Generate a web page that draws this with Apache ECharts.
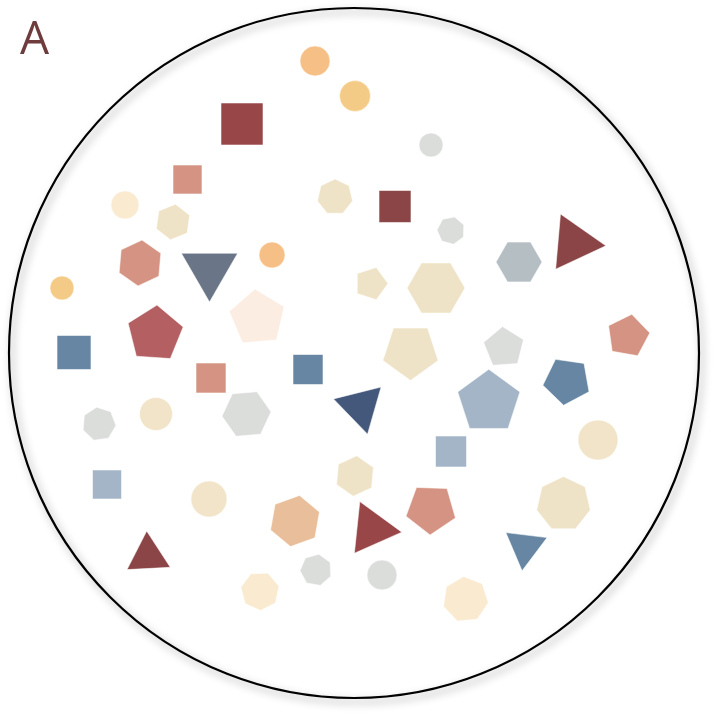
<!DOCTYPE html>
<html>
<head>
<meta charset="utf-8">
<title>Shapes</title>
<script src="https://cdn.jsdelivr.net/npm/echarts@6/dist/echarts.min.js"></script>
<style>
  html, body { margin: 0; padding: 0; background: #fff; }
  #chart { width: 720px; height: 720px; }
</style>
</head>
<body>
<div id="chart"></div>
<script>
// one entry per shape, same order in every array
var shapeX = [315, 355, 242, 431, 187.5, 125, 173, 335, 395, 451, 519, 574, 140, 209.5, 272, 62,
  371, 436, 628, 155, 257.5, 74, 410.5, 504, 211, 308, 360.7, 488.8, 567, 99, 156, 246.5,
  598, 451, 107, 209, 355, 295, 372, 431, 563.5, 148, 525, 316, 382, 260, 465.5];
var shapeY = [61, 96, 124, 145, 179.5, 205, 222, 197, 206.5, 230.5, 262, 243, 263, 269.5, 255, 288,
  283.6, 288, 336, 334, 318, 352.5, 351.5, 347.5, 378, 369.5, 406.7, 402, 381, 424, 414, 414,
  440, 451.5, 484.5, 499, 476, 521, 529, 509, 504, 556, 547, 570, 575, 591, 599.5];
var shapeSize = [15, 15.5, 29.7, 12, 20.5, 14, 18, 18, 22.6, 14, 23, 32, 23, 32.5, 13, 12,
  17, 29, 22, 29, 29, 24, 29, 21, 21.2, 21.2, 28.3, 32.7, 24.5, 17, 16.5, 24.6,
  20, 21.9, 20.5, 18, 20.3, 26, 30, 26, 27.5, 25, 24, 16, 15, 19.5, 23];
// 0 = circle, otherwise number of corners
var shapeSides = [0, 0, 4, 0, 4, 0, 6, 7, 4, 7, 6, 3, 6, 3, 0, 0,
  5, 6, 5, 5, 5, 4, 5, 5, 4, 4, 3, 5, 5, 7, 0, 6,
  0, 4, 4, 0, 6, 6, 3, 5, 7, 3, 3, 7, 0, 7, 7];
var shapeTurn = [0, 0, 45, 0, 45, 0, 8, 0, 45, 15, 30, 95, 5, 180, 0, 0,
  18, 30, 10, 4, -5, 45, 180, -4, 45, 45, 46, 0, 188, -8, 0, 25,
  0, 45, 45, 0, 5, 10, 96, 182, 0, -3, 187, 10, 0, 24, -5];
var shapeTone = ['orange', 'yellow', 'crimson', 'grey', 'salmon', 'cream', 'sand', 'sand', 'maroon', 'grey', 'ash', 'maroon', 'salmon', 'slate', 'orange', 'yellow',
  'sand', 'sand', 'salmon', 'rose', 'peach', 'steel', 'sand', 'grey', 'salmon', 'steel', 'navy', 'sky', 'steel', 'grey', 'wheat', 'grey',
  'wheat', 'sky', 'sky', 'wheat', 'sand', 'tan', 'crimson', 'salmon', 'sand', 'maroon', 'steel', 'grey', 'grey', 'cream', 'cream'];

var toneColor = {
  orange: '#f6bf85', yellow: '#f4cb86', crimson: '#994649', maroon: '#8b4547',
  salmon: '#d59483', rose: '#b45f62', sand: '#efe3c7', cream: '#faead0',
  peach: '#fcede2', slate: '#6a7587', grey: '#dbdddb', ash: '#b5bec3',
  steel: '#6686a3', sky: '#a3b5c7', navy: '#44587b', tan: '#e9bf9b', wheat: '#f2e4c8'
};

var data = shapeX.map(function (x, i) {
  return [x, shapeY[i], shapeSize[i], shapeSides[i], shapeTurn[i]];
});

function renderShape(params, api) {
  var c = api.coord([api.value(0), api.value(1)]);
  var r = api.size([api.value(2), 0])[0];
  var n = api.value(3);
  var style = {
    fill: toneColor[shapeTone[params.dataIndex]],
    stroke: 'rgba(255,255,255,0.55)',
    lineWidth: 1
  };
  if (!n) {
    return { type: 'circle', shape: { cx: c[0], cy: c[1], r: r }, style: style };
  }
  var pts = [];
  var a0 = api.value(4) * Math.PI / 180;
  for (var k = 0; k < n; k++) {
    var a = a0 + k * 2 * Math.PI / n;
    pts.push([c[0] + r * Math.sin(a), c[1] - r * Math.cos(a)]);
  }
  return { type: 'polygon', shape: { points: pts }, style: style };
}

var chart = echarts.init(document.getElementById('chart'));
chart.setOption({
  backgroundColor: '#fff',
  animation: false,
  grid: { left: 0, right: 0, top: 0, bottom: 0 },
  xAxis: { type: 'value', min: 0, max: 720, show: false },
  yAxis: { type: 'value', min: 0, max: 720, inverse: true, show: false },
  graphic: [
    {
      type: 'circle',
      z: 0,
      shape: { cx: 354, cy: 353, r: 345 },
      style: {
        fill: null,
        stroke: '#000',
        lineWidth: 2.2,
        shadowBlur: 8,
        shadowColor: 'rgba(0,0,0,0.4)',
        shadowOffsetX: 3,
        shadowOffsetY: 4
      }
    },
    {
      type: 'text',
      z: 5,
      left: 20,
      top: 18,
      style: {
        text: 'A',
        font: '46px "Open Sans", sans-serif',
        fill: '#6e3c3c'
      }
    }
  ],
  series: [{
    type: 'custom',
    z: 10,
    renderItem: renderShape,
    data: data,
    silent: true
  }]
});
</script>
</body>
</html>
